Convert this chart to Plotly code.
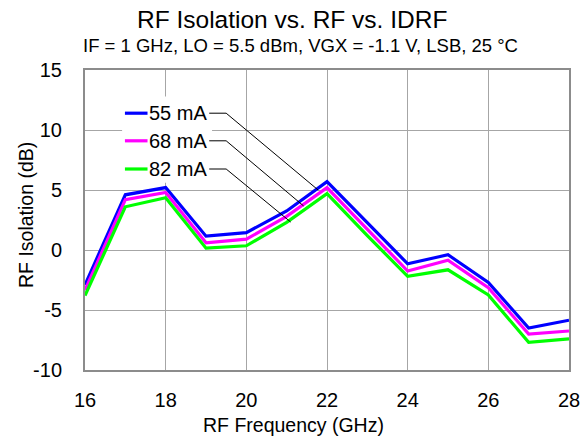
import plotly.graph_objects as go

freq = [16, 17, 18, 19, 20, 21, 22, 23, 24, 25, 26, 27, 28]
iso_55 = [-2.9, 4.6, 5.2, 1.15, 1.45, 3.25, 5.7, 2.25, -1.15, -0.4, -2.7, -6.5, -5.85]
iso_68 = [-3.35, 4.2, 4.8, 0.6, 0.9, 2.8, 5.2, 1.7, -1.75, -0.85, -3.15, -7.0, -6.75]
iso_82 = [-3.8, 3.6, 4.35, 0.15, 0.35, 2.3, 4.7, 1.2, -2.2, -1.65, -3.75, -7.7, -7.4]
labels = ["55 mA", "68 mA", "82 mA"]
colors = ["#0000FF", "#FF00FF", "#00FF00"]
x_ticks = [16, 18, 20, 22, 24, 26, 28]
y_ticks = [-10, -5, 0, 5, 10, 15]
y_ticktext = ["-10", "-5", "0", "5", "10", "15"]

# legend label positions (data coords) and leader targets
label_y = [11.4, 9.1, 6.75]
leader_end = [(21.78, 5.0), (21.42, 3.67), (21.1, 2.33)]

FONT = "Liberation Sans, Arial, sans-serif"

fig = go.Figure()
for name, ys, c in zip(labels, [iso_55, iso_68, iso_82], colors):
    fig.add_trace(go.Scatter(x=freq, y=ys, mode="lines", name=name,
                             line=dict(color=c, width=3.2), showlegend=False))

shapes = []
annotations = []
# white legend box covering gridlines
shapes.append(dict(type="rect", xref="x", yref="y", x0=16.92, x1=19.15, y0=5.6, y1=12.8,
                   fillcolor="white", line=dict(width=0), layer="above"))
for i in range(3):
    ly = label_y[i]
    shapes.append(dict(type="line", xref="x", yref="y", x0=16.99, x1=17.55, y0=ly, y1=ly,
                       line=dict(color=colors[i], width=3.2), layer="above"))
    annotations.append(dict(x=17.53, y=ly, xref="x", yref="y", text=labels[i], showarrow=False,
                            xanchor="left", yanchor="middle",
                            font=dict(family=FONT, size=20, color="black")))
    shapes.append(dict(type="line", xref="x", yref="y", x0=19.08, x1=19.5, y0=ly, y1=ly,
                       line=dict(color="black", width=1), layer="above"))
    ex, ey = leader_end[i]
    shapes.append(dict(type="line", xref="x", yref="y", x0=19.5, x1=ex, y0=ly, y1=ey,
                       line=dict(color="black", width=1), layer="above"))

# titles
annotations.append(dict(x=(292 - 85) / 484, y=(370 - 19) / 300, xref="paper", yref="paper",
                        text="RF Isolation vs. RF vs. IDRF", showarrow=False,
                        xanchor="center", yanchor="middle",
                        font=dict(family=FONT, size=24.5, color="black")))
annotations.append(dict(x=(300 - 85) / 484, y=(370 - 46) / 300, xref="paper", yref="paper",
                        text="IF = 1 GHz, LO = 5.5 dBm, VGX = -1.1 V, LSB, 25 °C", showarrow=False,
                        xanchor="center", yanchor="middle",
                        font=dict(family=FONT, size=18.5, color="black")))
annotations.append(dict(x=(293 - 85) / 484, y=(370 - 425) / 300, xref="paper", yref="paper",
                        text="RF Frequency (GHz)", showarrow=False,
                        xanchor="center", yanchor="middle",
                        font=dict(family=FONT, size=19.5, color="black")))
annotations.append(dict(x=(26 - 85) / 484, y=(370 - 215) / 300, xref="paper", yref="paper",
                        text="RF Isolation (dB)", showarrow=False, textangle=-90,
                        xanchor="center", yanchor="middle",
                        font=dict(family=FONT, size=19.5, color="black")))

fig.update_layout(
    width=582, height=439,
    margin=dict(l=85, r=13, t=70, b=69, autoexpand=False),
    paper_bgcolor="white", plot_bgcolor="white",
    font=dict(family=FONT, size=20, color="black"),
    shapes=shapes, annotations=annotations,
    xaxis=dict(range=[16, 28], tickmode="array", tickvals=x_ticks,
               showgrid=True, gridcolor="#A6A6A6", gridwidth=1,
               showline=True, linecolor="#8C8C8C", linewidth=2, mirror=True,
               ticks="outside", ticklen=11, tickcolor="rgba(0,0,0,0)",
               zeroline=False, tickfont=dict(family=FONT, size=20, color="black")),
    yaxis=dict(range=[-10, 15], tickmode="array", tickvals=y_ticks, ticktext=y_ticktext,
               showgrid=True, gridcolor="#A6A6A6", gridwidth=1,
               showline=True, linecolor="#8C8C8C", linewidth=2, mirror=True,
               ticks="outside", ticklen=17, tickcolor="rgba(0,0,0,0)",
               zeroline=False, tickfont=dict(family=FONT, size=20, color="black")),
)

fig.write_html("out.html", config={"displayModeBar": False},
               post_script="document.body.style.margin='0px';")
